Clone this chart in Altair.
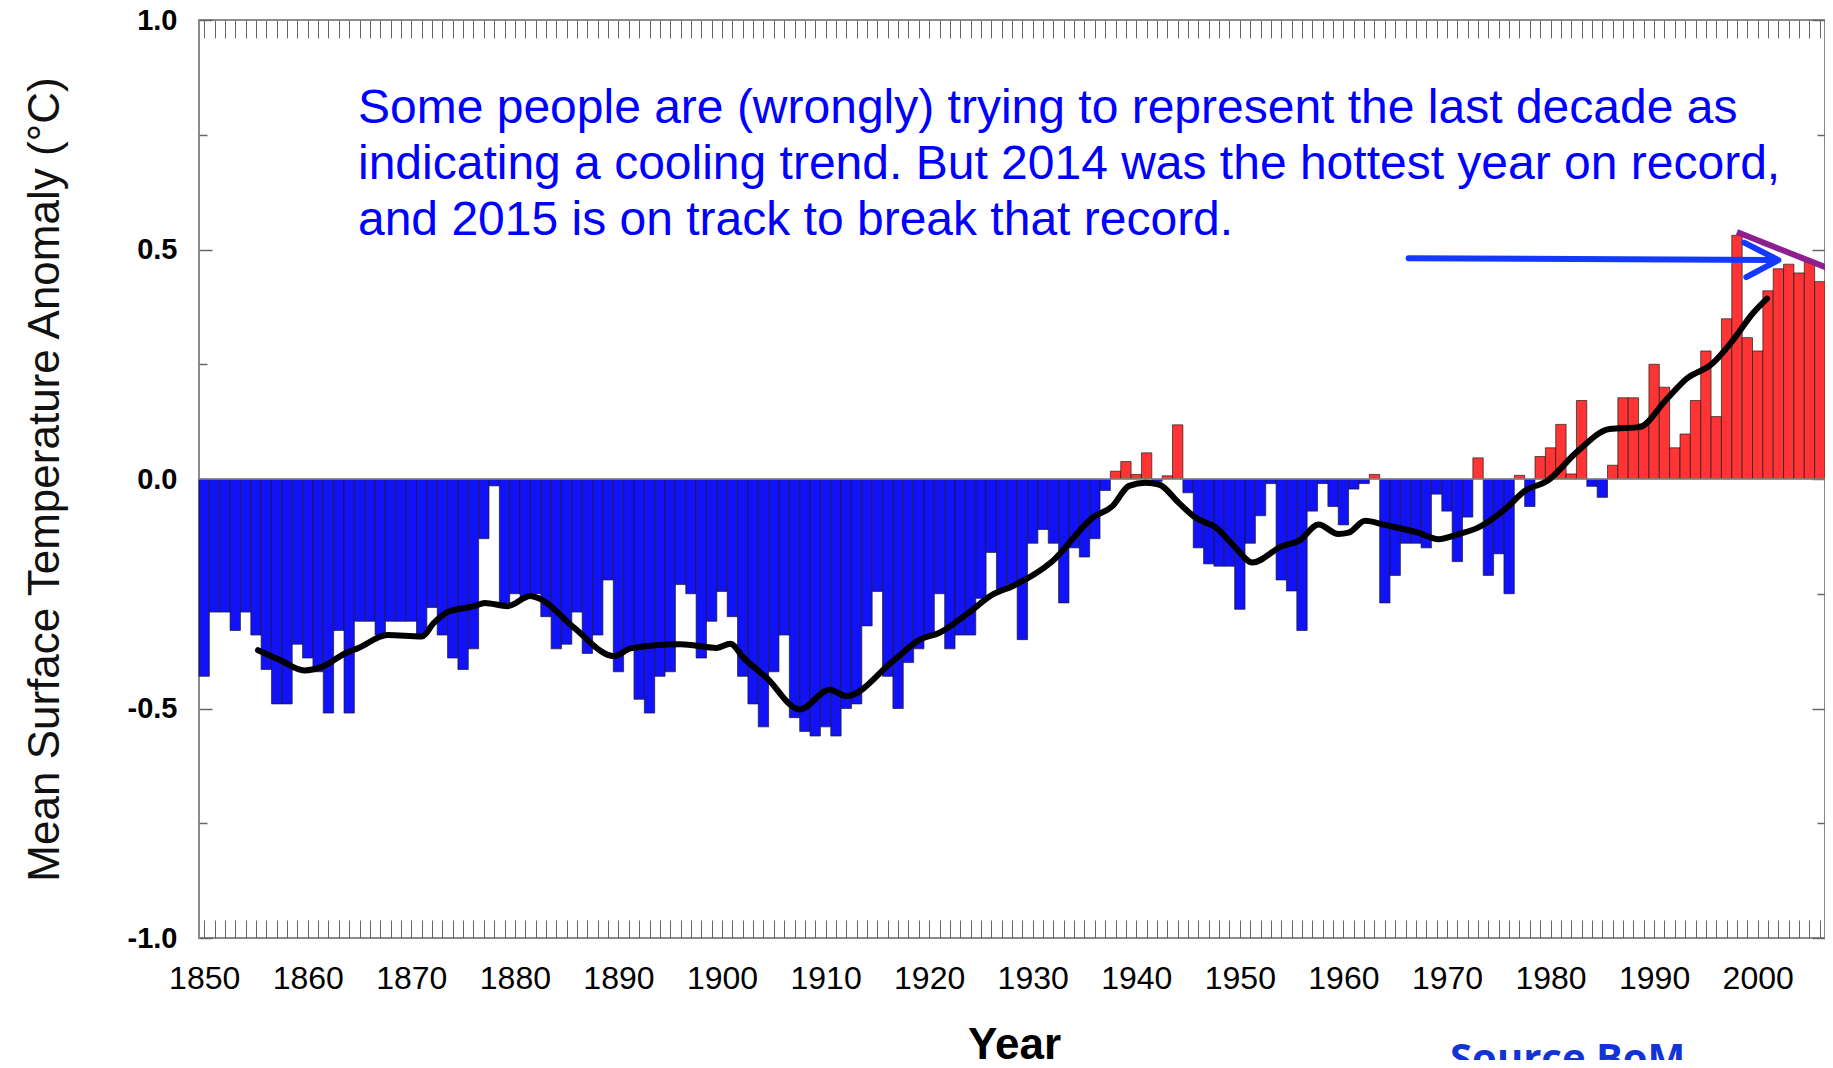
import altair as alt
import pandas as pd

# ---------------- data ----------------
years = list(range(1850, 2007))
anomaly = [
    -0.43, -0.29, -0.29, -0.33, -0.29, -0.34, -0.415, -0.49, -0.49, -0.36,   # 1850-1859
    -0.39, -0.42, -0.51, -0.33, -0.51, -0.31, -0.31, -0.34, -0.31, -0.31,    # 1860-1869
    -0.31, -0.34, -0.28, -0.34, -0.39, -0.415, -0.37, -0.13, -0.015, -0.27,  # 1870-1879
    -0.25, -0.26, -0.25, -0.30, -0.37, -0.36, -0.29, -0.38, -0.34, -0.22,    # 1880-1889
    -0.42, -0.37, -0.48, -0.51, -0.43, -0.42, -0.23, -0.25, -0.39, -0.31,    # 1890-1899
    -0.245, -0.30, -0.43, -0.49, -0.54, -0.42, -0.34, -0.52, -0.55, -0.56,   # 1900-1909
    -0.54, -0.56, -0.50, -0.49, -0.32, -0.245, -0.43, -0.50, -0.40, -0.37,   # 1910-1919
    -0.34, -0.25, -0.37, -0.34, -0.34, -0.26, -0.16, -0.24, -0.23, -0.35,    # 1920-1929
    -0.14, -0.11, -0.14, -0.27, -0.15, -0.17, -0.13, -0.025, 0.017, 0.038,   # 1930-1939
    0.01, 0.057, -0.005, 0.007, 0.118, -0.03, -0.15, -0.185, -0.19, -0.19,   # 1940-1949
    -0.284, -0.14, -0.08, -0.01, -0.22, -0.244, -0.33, -0.07, -0.01, -0.06,  # 1950-1959
    -0.10, -0.022, -0.01, 0.01, -0.27, -0.21, -0.14, -0.14, -0.15, -0.033,   # 1960-1969
    -0.07, -0.18, -0.083, 0.046, -0.21, -0.163, -0.25, 0.008, -0.06, 0.049,  # 1970-1979
    0.068, 0.119, 0.011, 0.171, -0.016, -0.04, 0.03, 0.177, 0.177, 0.12,     # 1980-1989
    0.25, 0.20, 0.068, 0.098, 0.171, 0.279, 0.136, 0.349, 0.531, 0.308,      # 1990-1999
    0.279, 0.41, 0.458, 0.468, 0.449, 0.476, 0.43,                           # 2000-2006
]

smooth_year = [
    1855.2, 1857.2, 1859.7, 1861.3, 1863.6, 1864.9, 1867.7, 1871.0, 1872.2, 1873.5,
    1876.1, 1877.1, 1879.3, 1881.5, 1882.5, 1885.7, 1889.6, 1891.2, 1896.0, 1899.5,
    1900.8, 1902.1, 1904.3, 1907.5, 1910.4, 1912.0, 1916.5, 1919.1, 1921.0, 1923.6,
    1926.2, 1928.1, 1931.9, 1935.8, 1937.7, 1939.3, 1940.9, 1942.2, 1944.1, 1945.7,
    1947.7, 1949.6, 1951.2, 1954.1, 1955.7, 1957.6, 1959.5, 1960.5, 1962.1, 1964.0,
    1967.2, 1969.2, 1971.1, 1973.0, 1975.6, 1977.5, 1979.7, 1982.5, 1985.7, 1988.6,
    1991.1, 1993.1, 1995.6, 1997.6, 1999.5, 2000.9,
]
smooth_value = [
    -0.373, -0.393, -0.417, -0.41, -0.38, -0.368, -0.34, -0.343, -0.313, -0.29,
    -0.277, -0.27, -0.277, -0.255, -0.262, -0.324, -0.386, -0.369, -0.36, -0.368,
    -0.359, -0.39, -0.433, -0.502, -0.459, -0.473, -0.397, -0.35, -0.335, -0.295,
    -0.251, -0.233, -0.179, -0.084, -0.059, -0.015, -0.008, -0.012, -0.052, -0.084,
    -0.106, -0.15, -0.182, -0.146, -0.135, -0.099, -0.12, -0.117, -0.091, -0.1,
    -0.117, -0.131, -0.12, -0.106, -0.066, -0.026, -0.004, 0.058, 0.109, 0.113,
    0.171, 0.218, 0.251, 0.302, 0.36, 0.393,
]

x_label_years = list(range(1850, 2001, 10))
y_major = [-1.0, -0.5, 0.0, 0.5, 1.0]
y_minor = [-0.75, -0.25, 0.25, 0.75]

note_lines = [
    "Some people are (wrongly) trying to represent the last decade as",
    "indicating a cooling trend. But 2014 was the hottest year on record,",
    "and 2015 is on track to break that record.",
]
note_pos = {"x": [1864.85], "y": [0.776]}

arrow_part = ["shaft", "shaft", "head", "head", "head"]
arrow_order = [0, 1, 0, 1, 2]
arrow_year = [1966.3, 2001.6, 1998.7, 2002.0, 1998.9]
arrow_value = [0.481, 0.477, 0.515, 0.477, 0.440]

purple_year = [1998.0, 2006.7]
purple_value = [0.538, 0.46]

source_pos = {"x": [1970.3], "y": [-1.292]}

# ---------------- chart ----------------
W, H = 1626, 918
BLUE = "#1212F8"
RED = "#FF3434"
TICK = "#666666"
FONT = "Liberation Sans"

xs = alt.Scale(domain=[1849.5, 2006.5], nice=False, zero=False)
ys = alt.Scale(domain=[-1.0, 1.0], nice=False, zero=False)

df_bars = pd.DataFrame({"year": years, "anomaly": anomaly})
df_smooth = pd.DataFrame({"year": smooth_year, "value": smooth_value})
df_arrow = pd.DataFrame({"part": arrow_part, "idx": arrow_order,
                         "year": arrow_year, "value": arrow_value})
df_purple = pd.DataFrame({"year": purple_year, "value": purple_value})

bars = alt.Chart(df_bars).transform_calculate(
    x0="datum.year - 0.5", x1="datum.year + 0.5", zero="0"
).mark_bar(stroke="#1a1a1a", strokeWidth=0.9, strokeOpacity=0.75).encode(
    x=alt.X("x0:Q", scale=xs, axis=alt.Axis(
        orient="bottom", values=x_label_years, format="d", ticks=False, domain=False,
        grid=False, labelPadding=25, labelFontSize=32, labelColor="#000",
        labelFont=FONT, title="Year", titleFont=FONT, titleFontSize=44,
        titleFontWeight="bold", titleColor="#000", titleX=815, titleY=120,
        titleBaseline="alphabetic", titleAlign="center", titleAngle=0)),
    x2="x1:Q",
    y=alt.Y("anomaly:Q", scale=ys, axis=alt.Axis(
        orient="left", values=y_major, ticks=False, domain=False, grid=False,
        labelExpr="datum.value < 0 ? '-' + format(-datum.value, '.1f') : format(datum.value, '.1f')",
        labelPadding=22, labelFontSize=29, labelFontWeight="bold",
        labelColor="#000", labelFont=FONT,
        title="Mean Surface Temperature Anomaly (°C)", titleFont=FONT,
        titleFontSize=44, titleFontWeight="normal", titleColor="#111",
        titleX=-141, titleY=H / 2, titleAngle=270, titleBaseline="alphabetic",
        titleAlign="center")),
    y2="zero:Q",
    color=alt.condition("datum.anomaly > 0", alt.value(RED), alt.value(BLUE)),
)

zero_rule = alt.Chart(pd.DataFrame({"z": [0.0]})).mark_rule(
    color="#8a8a8a", strokeWidth=1.5
).encode(y=alt.Y("z:Q", scale=ys, axis=None))

smooth = alt.Chart(df_smooth).mark_line(
    color="#000", strokeWidth=6, strokeCap="round", strokeJoin="round",
    interpolate="monotone"
).encode(
    x=alt.X("year:Q", scale=xs, axis=alt.Axis(
        orient="top", offset=-H, values=years, labels=False, domain=False,
        grid=False, tickSize=18, tickColor=TICK, tickWidth=1, title=None)),
    y=alt.Y("value:Q", scale=ys, axis=alt.Axis(
        orient="right", offset=-W, values=y_major, labels=False, domain=False,
        grid=False, tickSize=13, tickColor=TICK, tickWidth=1.5, title=None)),
)

arrow = alt.Chart(df_arrow).mark_line(
    color="#1538FF", strokeWidth=6, strokeCap="round", strokeJoin="round"
).encode(
    x=alt.X("year:Q", scale=xs, axis=alt.Axis(
        orient="bottom", offset=-H, values=years, labels=False, domain=False,
        grid=False, tickSize=18, tickColor=TICK, tickWidth=1, title=None)),
    y=alt.Y("value:Q", scale=ys, axis=alt.Axis(
        orient="left", offset=-W, values=y_major, labels=False, domain=False,
        grid=False, tickSize=13, tickColor=TICK, tickWidth=1.5, title=None)),
    detail="part:N",
    order="idx:Q",
)

purple = alt.Chart(df_purple).mark_line(
    color="#8E1F8E", strokeWidth=6, strokeCap="butt"
).encode(
    x=alt.X("year:Q", scale=xs, axis=None),
    y=alt.Y("value:Q", scale=ys, axis=alt.Axis(
        orient="right", offset=-W, values=y_minor, labels=False, domain=False,
        grid=False, tickSize=8, tickColor=TICK, tickWidth=1.5, title=None)),
)

note = alt.Chart(pd.DataFrame(note_pos)).mark_text(
    text=note_lines, align="left", baseline="alphabetic", font=FONT,
    fontSize=48, lineHeight=56, color="#0000FF"
).encode(
    x=alt.X("x:Q", scale=xs, axis=None),
    y=alt.Y("y:Q", scale=ys, axis=alt.Axis(
        orient="left", offset=-W, values=y_minor, labels=False, domain=False,
        grid=False, tickSize=8, tickColor=TICK, tickWidth=1.5, title=None)),
)

source = alt.Chart(pd.DataFrame(source_pos)).mark_text(
    text="Source BoM", align="left", baseline="alphabetic", font="Open Sans",
    fontWeight="bold", fontSize=40, color="#1233D6"
).encode(
    x=alt.X("x:Q", scale=xs, axis=None),
    y=alt.Y("y:Q", scale=ys, axis=None),
)

chart = alt.layer(bars, zero_rule, smooth, arrow, purple, note, source).resolve_axis(
    x="independent", y="independent"
).properties(
    width=W, height=H,
    autosize=alt.AutoSizeParams(type="none"),
    padding={"left": 191, "top": 12, "right": 0, "bottom": 122},
    background="white",
).configure_view(stroke="#8c8c8c", strokeWidth=2)

chart.save("out.html", embed_options={"renderer": "svg", "actions": False})
